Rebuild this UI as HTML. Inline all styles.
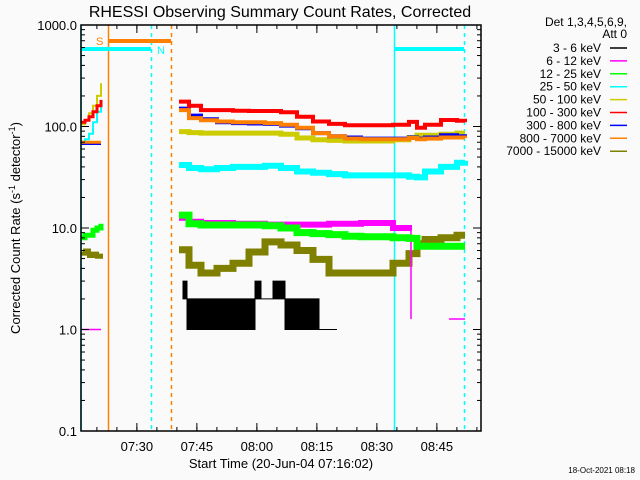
<!DOCTYPE html>
<html><head><meta charset="utf-8"><style>
html,body{margin:0;padding:0;background:#fafafa;}
svg{display:block;font-family:"Liberation Sans",sans-serif;}
</style></head><body>
<svg id="chart" width="640" height="480" viewBox="0 0 640 480" xmlns="http://www.w3.org/2000/svg">
<rect x="0" y="0" width="640" height="480" fill="#fafafa"/>
<text x="280" y="17" font-size="16" text-anchor="middle" fill="#000">RHESSI Observing Summary Count Rates, Corrected</text>
<text transform="translate(20,228) rotate(-90)" font-size="13" text-anchor="middle" fill="#000">Corrected Count Rate (s<tspan font-size="9" dy="-5">-1</tspan><tspan dy="5"> detector</tspan><tspan font-size="9" dy="-5">-1</tspan><tspan dy="5">)</tspan></text>
<text x="281" y="468" font-size="13" text-anchor="middle" fill="#000">Start Time (20-Jun-04 07:16:02)</text>
<text x="635" y="473" font-size="8" text-anchor="end" fill="#000">18-Oct-2021 08:18</text>
<g id="marks"></g>
<g id="axes"></g>
<g id="legend"></g>
</svg>
<script>
// ---- data ----
const seriesNames = ["3 - 6 keV","6 - 12 keV","12 - 25 keV","25 - 50 keV","50 - 100 keV","100 - 300 keV","300 - 800 keV","800 - 7000 keV","7000 - 15000 keV"];
const seriesColors = ["#000000","#ff00ff","#00ff00","#00ffff","#cccc00","#ff0000","#0000ff","#ff8000","#808000"];
const yTickLabels = ["0.1","1.0","10.0","100.0","1000.0"];
const yTickValues = [0.1,1,10,100,1000];
const xTickLabels = ["07:30","07:45","08:00","08:15","08:30","08:45"];
const xTickMinutes = [13.97,28.97,43.97,58.97,73.97,88.97];
// segment 1 (minutes from 07:16:02)
const t1 = [0,1,2,3,4,5];
const cyan1 = [71,75,85,110,140,170];
const yellow1 = [105,115,135,160,200,267];
const red1 = [110,115,125,140,160,183];
const orange1 = [70,70,70,70,70,70];
const blue1 = [68,68,68,68,68,68];
const green1 = [8,8.5,8.5,9.5,10,11];
const olive1 = [5.6,6,5.3,5.6,5.2,5.6];
const magenta1 = [1.0,1.0,1.0,1.0,1.0,1.0];
// segment 2
const t2 = [24.5,27,30,34,38,42,46,50,54,58,62,66,70,74,78,82,84,86,90,94,96];
const red2 = [176,160,145,145,143,142,142,138,125,112,106,103,103,103,104,111,97,104,116,114,110];
const blue2 = [150,128,118,110,108,107,106,102,96,86,80,78,76,76,76,78,76,78,82,80,78];
const orange2 = [145,121,115,112,110,110,108,104,97,86,80,76,75,75,75,77,75,76,78,78,77];
const yellow2 = [89,87,86,86,86,86,86,84,77,74,73,72,72,72,74,78,82,82,84,86,86];
const cyan2 = [41.8,39,38,39,40,40,41,39,36,35,34,33,33,33,33,32,31.5,36,40,44,46];
const green2 = [13.4,11,10.7,10.7,10.7,10.7,10.5,10,9,8.8,8.6,8.3,8.2,8.2,8,7.9,6.6,6.6,6.6,6.6,6.6];
const olive2 = [6.1,4.3,3.6,4.0,4.5,5.8,7.3,6.8,6.0,4.9,3.6,3.6,3.6,3.6,4.5,5.6,7.0,7.7,8.0,8.5,8.5];
const tMag2 = [24.5,27,30,34,38,42,46,50,54,58,62,66,70,74,78,82];
const magenta2 = [12.6,11.5,11.2,11.2,11.0,11.0,10.8,10.8,10.8,10.8,11.0,11.0,11.2,11.2,10.0,9.5];
const tMag3 = [82,82.5];
const magenta3 = [9.5,1.27];
const tMag4 = [92,96];
const magenta4 = [1.27,1.27];
const blackT2 = [25.5,26.5,43.5,45,48,51,59.5,64];
const blackLo2 = [2.0,1.0,2.0,2.0,2.0,1.0,1.0,1.0];
const blackHi2 = [3.0,2.0,3.0,2.0,3.0,2.0,1.0,1.0];

// ---- axes functions ----
const X0=81, X1=481, Y0=431, Y1=25, TMAX=100;
function xs(t){return X0+(t/TMAX)*(X1-X0);}
function ys(v){return Y0-(Math.log10(v)+1)/4*(Y0-Y1);}
const NS="http://www.w3.org/2000/svg";
function mk(tag,attrs,parent){const e=document.createElementNS(NS,tag);for(const k in attrs)e.setAttribute(k,attrs[k]);parent.appendChild(e);return e;}
const marks=document.getElementById('marks'), axes=document.getElementById('axes'), legend=document.getElementById('legend');

function stepPath(ts,vs){let d='';for(let i=0;i<ts.length;i++){const x=xs(ts[i]).toFixed(1),y=ys(vs[i]).toFixed(1);d+=(i?'H'+x+'V'+y:'M'+x+','+y);}return d;}
function drawSeries(ts,vs,color,w,name){
  const p=mk('path',{d:stepPath(ts,vs),fill:'none',stroke:color,'stroke-width':w},marks);
  
  
}
// vertical markers
const vlines=[[81,'#00ffff',''],[108.5,'#ff8000',''],[151.5,'#00ffff','4,4'],[171.5,'#ff8000','4,4'],[394.5,'#00ffff',''],[464.5,'#00ffff','4,4']];
vlines.forEach(v=>{const l=mk('line',{x1:v[0],x2:v[0],y1:Y1,y2:Y0,stroke:v[1],'stroke-width':1.5,'stroke-dasharray':v[2]},marks);
 
 });
const bars=[[108,171,41,'#ff8000'],[81,151,49,'#00ffff'],[395,464,49,'#00ffff']];
bars.forEach(b=>{const l=mk('line',{x1:b[0],x2:b[1],y1:b[2],y2:b[2],stroke:b[3],'stroke-width':4},marks);
 
 });
const s=mk('text',{x:96,y:45,'font-size':11,fill:'#ff8000'},marks);s.textContent='S';


const n=mk('text',{x:157,y:54,'font-size':11,fill:'#00ffff'},marks);n.textContent='N';



// black step band
(function(){let d='';
 for(let i=0;i<blackT2.length;i++){const x=xs(blackT2[i]).toFixed(1),y=ys(blackHi2[i]).toFixed(1);d+=(i?'H'+x+'V'+y:'M'+x+','+y);}
 d+='H'+xs(blackT2[blackT2.length-1]).toFixed(1);
 for(let i=blackT2.length-1;i>=0;i--){const x=xs(blackT2[i]).toFixed(1),y=ys(blackLo2[i]).toFixed(1);d+='V'+y+'H'+x;}
 d+='Z';
 const p=mk('path',{d:d,fill:'#000',stroke:'#000','stroke-width':1},marks);
 
 })();
drawSeries(t1,olive1,'#808000',4,'series-7000-15000kev-seg1');
drawSeries(t2,olive2,'#808000',7,'series-7000-15000kev');
drawSeries(t1,magenta1,'#ff00ff',1.5,'series-6-12kev-seg1');
drawSeries(tMag2,magenta2,'#ff00ff',6,'series-6-12kev');
drawSeries(tMag3,magenta3,'#ff00ff',1.5,'series-6-12kev-drop');
drawSeries(tMag4,magenta4,'#ff00ff',1.5,'series-6-12kev-tail');
drawSeries(t1,green1,'#00ff00',5,'series-12-25kev-seg1');
drawSeries(t2,green2,'#00ff00',7,'series-12-25kev');
drawSeries(t1,cyan1,'#00ffff',2,'series-25-50kev-seg1');
drawSeries(t2,cyan2,'#00ffff',6,'series-25-50kev');
drawSeries(t1,yellow1,'#cccc00',2,'series-50-100kev-seg1');
drawSeries(t2,yellow2,'#cccc00',5,'series-50-100kev');
drawSeries(t1,blue1,'#0000ff',3,'series-300-800kev-seg1');
drawSeries(t2,blue2,'#0000ff',4,'series-300-800kev');
drawSeries(t1,orange1,'#ff8000',3,'series-800-7000kev-seg1');
drawSeries(t2,orange2,'#ff8000',4,'series-800-7000kev');
drawSeries(t1,red1,'#ff0000',3,'series-100-300kev-seg1');
drawSeries(t2,red2,'#ff0000',4,'series-100-300kev');

// axes
const frame=mk('rect',{x:X0,y:Y1,width:X1-X0,height:Y0-Y1,fill:'none',stroke:'#000','stroke-width':1.5},axes);


yTickValues.forEach((v,i)=>{const y=ys(v);
 mk('line',{x1:X0,x2:X0+8,y1:y,y2:y,stroke:'#000'},axes);mk('line',{x1:X1-8,x2:X1,y1:y,y2:y,stroke:'#000'},axes);
 const t=mk('text',{x:77,y:y+5,'font-size':13,'text-anchor':'end',fill:'#000'},axes);t.textContent=yTickLabels[i];
 
 
 if(i<yTickValues.length-1){for(let m=2;m<10;m++){const ym=ys(v*m);
  mk('line',{x1:X0,x2:X0+4,y1:ym,y2:ym,stroke:'#000'},axes);mk('line',{x1:X1-4,x2:X1,y1:ym,y2:ym,stroke:'#000'},axes);}}
});
xTickMinutes.forEach((m,i)=>{const x=xs(m);
 mk('line',{x1:x,x2:x,y1:Y0,y2:Y0-8,stroke:'#000'},axes);mk('line',{x1:x,x2:x,y1:Y1,y2:Y1+8,stroke:'#000'},axes);
 const t=mk('text',{x:x,y:451,'font-size':13,'text-anchor':'middle',fill:'#000'},axes);t.textContent=xTickLabels[i];
 
 
});
for(let m=xTickMinutes[0]-10;m<TMAX;m+=5){if(m<0)continue;const x=xs(m);
 mk('line',{x1:x,x2:x,y1:Y0,y2:Y0-4,stroke:'#000'},axes);mk('line',{x1:x,x2:x,y1:Y1,y2:Y1+4,stroke:'#000'},axes);}

// legend
const lh=[['Det 1,3,4,5,6,9,',26],['Att 0',38]];
lh.forEach(h=>{const t=mk('text',{x:627,y:h[1],'font-size':12,'text-anchor':'end',fill:'#000'},legend);t.textContent=h[0];
 
 });
seriesNames.forEach((nm,i)=>{const y=48+i*12.9;
 const t=mk('text',{x:601,y:y+4,'font-size':12,'text-anchor':'end',fill:'#000'},legend);t.textContent=nm;
 
 
 const l=mk('line',{x1:610,x2:627,y1:y,y2:y,stroke:seriesColors[i],'stroke-width':1.5},legend);
 
 
});
</script>
</body></html>
